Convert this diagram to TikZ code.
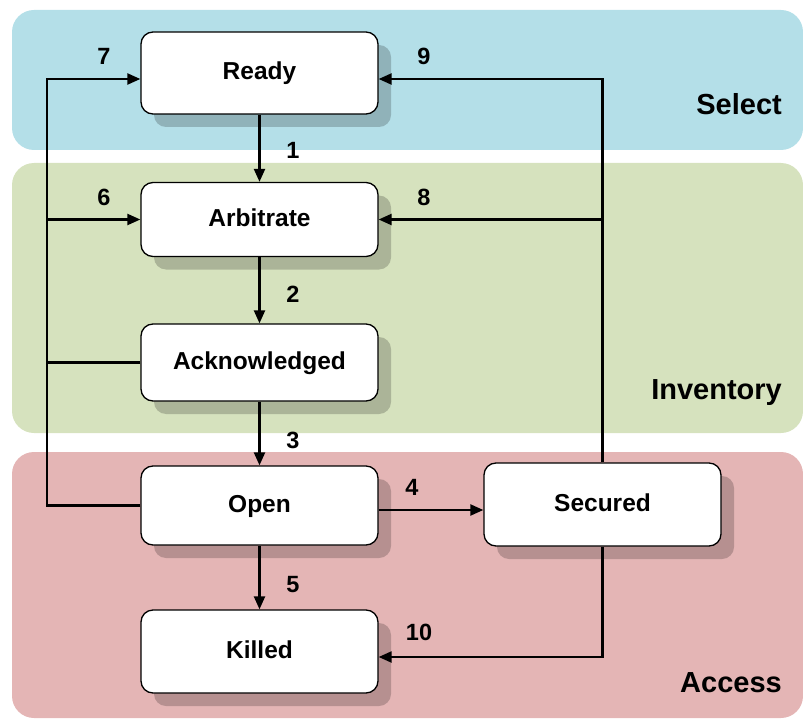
\documentclass[tikz,border=0pt]{standalone}
\usepackage{fontspec}
\setmainfont{Liberation Sans}
\usetikzlibrary{arrows.meta,shadows}
\definecolor{selbg}{HTML}{B4DFE8}
\definecolor{invbg}{HTML}{D6E2BE}
\definecolor{accbg}{HTML}{E4B5B5}
\begin{document}
\begin{tikzpicture}[x=1pt,y=-1pt,
  band/.style={rounded corners=22pt},
  state/.style={draw=black, line width=1.3pt, fill=white, rounded corners=12pt,
    minimum width=237pt, inner sep=0pt, text height=17.5pt, text depth=4pt,
    font=\fontsize{24.5}{28}\selectfont\bfseries,
    drop shadow={shadow xshift=13pt, shadow yshift=-13pt, fill=black, opacity=0.2}},
  num/.style={font=\fontsize{23.5}{26}\selectfont\bfseries, inner sep=0pt},
  bandlabel/.style={font=\fontsize{29}{32}\selectfont\bfseries, anchor=base east, inner sep=0pt},
  conn/.style={line width=2.2pt},
  arr/.style={conn, -{Triangle[length=13pt,width=11pt]}}
]
\useasboundingbox (0,0) rectangle (803,722);
% bands
\fill[selbg, band] (12,10) rectangle (803,150);
\fill[invbg, band] (12,163) rectangle (803,433);
\fill[accbg, band] (12,452) rectangle (803,718);
\node[bandlabel] (lsel) at (782,115) {Select};
\node[bandlabel] (linv) at (782,399) {Inventory};
\node[bandlabel] (lacc) at (782,692) {Access};
% states
\node[state, minimum height=82pt] (Ready) at (259.5,73) {Ready};
\node[state, minimum height=74pt] (Arbitrate) at (259.5,219.5) {Arbitrate};
\node[state, minimum height=77pt] (Ack) at (259.5,362.5) {Acknowledged};
\node[state, minimum height=79pt] (Open) at (259.5,505.5) {Open};
\node[state, minimum height=83pt] (Killed) at (259.5,651.5) {Killed};
\node[state, minimum height=83pt] (Secured) at (602.5,504.5) {Secured};
% helper coordinates
\coordinate (lx) at (47,0);
\coordinate (R7) at ([yshift=-6pt]Ready.west);
\coordinate (R9) at ([yshift=-6pt]Ready.east);
\coordinate (S4) at ([yshift=-5.5pt]Secured.west);
\coordinate (K10) at ([yshift=-5.5pt]Killed.east);
% connectors
\draw[arr] (Ready.south) -- (Arbitrate.north);
\draw[arr] (Arbitrate.south) -- (Ack.north);
\draw[arr] (Ack.south) -- (Open.north);
\draw[arr] (Open.south) -- (Killed.north);
\draw[arr] (Open.east |- S4) -- (S4);
\draw[arr] (Open.west) -| (lx |- R7) -- (R7);
\draw[arr] (lx |- Arbitrate.west) -- (Arbitrate.west);
\draw[conn] (Ack.west) -- (Ack.west -| lx);
\draw[arr] (Secured.north) |- (R9);
\draw[arr] (Secured.north |- Arbitrate.east) -- (Arbitrate.east);
\draw[arr] (Secured.south) |- (K10);
% numbers
\node[num] (n7) at (104,56) {7};
\node[num] (n9) at (424,56) {9};
\node[num] (n1) at (293,150) {1};
\node[num] (n6) at (104,197) {6};
\node[num] (n8) at (424,197) {8};
\node[num] (n2) at (293,294) {2};
\node[num] (n3) at (293,440) {3};
\node[num] (n4) at (412,487) {4};
\node[num] (n5) at (293,585) {5};
\node[num] (n10) at (419,632) {10};
\end{tikzpicture}
\end{document}
